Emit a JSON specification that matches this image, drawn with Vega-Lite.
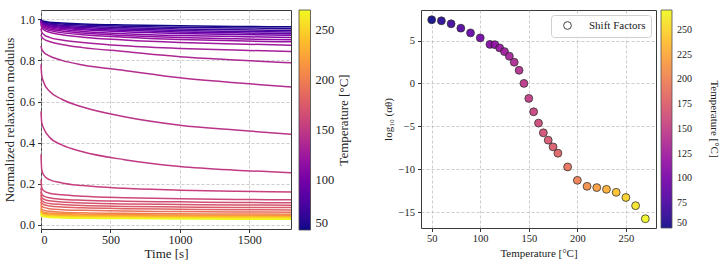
{
  "$schema": "https://vega.github.io/schema/vega-lite/v6.json",
  "padding": {"left": 3, "top": 9, "right": 2, "bottom": 4},
  "background": "white",
  "config": {
    "font": "Liberation Serif",
    "view": {"stroke": "#3a3a3a", "strokeWidth": 1},
    "axis": {
      "grid": true,
      "gridColor": "#b8b8b8",
      "gridDash": [3, 2],
      "gridWidth": 0.7,
      "domain": false,
      "tickColor": "#333",
      "tickSize": 3.5,
      "labelColor": "#222",
      "titleColor": "#222",
      "titleFontWeight": "normal",
      "labelFont": "Liberation Serif",
      "titleFont": "Liberation Serif"
    },
    "legend": {
      "titleFontWeight": "normal",
      "labelFont": "Liberation Serif",
      "titleFont": "Liberation Serif",
      "labelColor": "#222",
      "titleColor": "#222"
    }
  },
  "datasets": {
    "relax": [
      {"T":50,"t":0,"G":1.000},{"T":50,"t":5,"G":0.994},{"T":50,"t":20,"G":0.990},{"T":50,"t":60,"G":0.986},{"T":50,"t":150,"G":0.982},{"T":50,"t":300,"G":0.977},{"T":50,"t":600,"G":0.972},{"T":50,"t":1000,"G":0.968},{"T":50,"t":1400,"G":0.965},{"T":50,"t":1800,"G":0.963},
      {"T":60,"t":0,"G":0.998},{"T":60,"t":5,"G":0.992},{"T":60,"t":20,"G":0.987},{"T":60,"t":60,"G":0.982},{"T":60,"t":150,"G":0.977},{"T":60,"t":300,"G":0.972},{"T":60,"t":600,"G":0.966},{"T":60,"t":1000,"G":0.961},{"T":60,"t":1400,"G":0.958},{"T":60,"t":1800,"G":0.955},
      {"T":70,"t":0,"G":0.996},{"T":70,"t":5,"G":0.989},{"T":70,"t":20,"G":0.983},{"T":70,"t":60,"G":0.977},{"T":70,"t":150,"G":0.971},{"T":70,"t":300,"G":0.966},{"T":70,"t":600,"G":0.959},{"T":70,"t":1000,"G":0.953},{"T":70,"t":1400,"G":0.949},{"T":70,"t":1800,"G":0.946},
      {"T":80,"t":0,"G":0.994},{"T":80,"t":5,"G":0.986},{"T":80,"t":20,"G":0.979},{"T":80,"t":60,"G":0.973},{"T":80,"t":150,"G":0.966},{"T":80,"t":300,"G":0.960},{"T":80,"t":600,"G":0.952},{"T":80,"t":1000,"G":0.945},{"T":80,"t":1400,"G":0.941},{"T":80,"t":1800,"G":0.938},
      {"T":90,"t":0,"G":0.992},{"T":90,"t":5,"G":0.983},{"T":90,"t":20,"G":0.976},{"T":90,"t":60,"G":0.968},{"T":90,"t":150,"G":0.961},{"T":90,"t":300,"G":0.954},{"T":90,"t":600,"G":0.946},{"T":90,"t":1000,"G":0.938},{"T":90,"t":1400,"G":0.934},{"T":90,"t":1800,"G":0.930},
      {"T":100,"t":0,"G":0.990},{"T":100,"t":5,"G":0.980},{"T":100,"t":20,"G":0.972},{"T":100,"t":60,"G":0.964},{"T":100,"t":150,"G":0.956},{"T":100,"t":300,"G":0.949},{"T":100,"t":600,"G":0.939},{"T":100,"t":1000,"G":0.931},{"T":100,"t":1400,"G":0.926},{"T":100,"t":1800,"G":0.922},
      {"T":110,"t":0,"G":0.988},{"T":110,"t":5,"G":0.976},{"T":110,"t":20,"G":0.968},{"T":110,"t":60,"G":0.959},{"T":110,"t":150,"G":0.950},{"T":110,"t":300,"G":0.941},{"T":110,"t":600,"G":0.930},{"T":110,"t":1000,"G":0.921},{"T":110,"t":1400,"G":0.916},{"T":110,"t":1800,"G":0.911},
      {"T":115,"t":0,"G":0.985},{"T":115,"t":5,"G":0.972},{"T":115,"t":20,"G":0.963},{"T":115,"t":60,"G":0.953},{"T":115,"t":150,"G":0.943},{"T":115,"t":300,"G":0.933},{"T":115,"t":600,"G":0.921},{"T":115,"t":1000,"G":0.911},{"T":115,"t":1400,"G":0.905},{"T":115,"t":1800,"G":0.900},
      {"T":120,"t":0,"G":0.980},{"T":120,"t":5,"G":0.967},{"T":120,"t":20,"G":0.957},{"T":120,"t":60,"G":0.946},{"T":120,"t":150,"G":0.935},{"T":120,"t":300,"G":0.925},{"T":120,"t":600,"G":0.913},{"T":120,"t":1000,"G":0.902},{"T":120,"t":1400,"G":0.895},{"T":120,"t":1800,"G":0.890},
      {"T":125,"t":0,"G":0.975},{"T":125,"t":5,"G":0.960},{"T":125,"t":20,"G":0.949},{"T":125,"t":60,"G":0.937},{"T":125,"t":150,"G":0.925},{"T":125,"t":300,"G":0.913},{"T":125,"t":600,"G":0.899},{"T":125,"t":1000,"G":0.887},{"T":125,"t":1400,"G":0.880},{"T":125,"t":1800,"G":0.874},
      {"T":130,"t":0,"G":0.955},{"T":130,"t":5,"G":0.938},{"T":130,"t":20,"G":0.926},{"T":130,"t":60,"G":0.912},{"T":130,"t":150,"G":0.899},{"T":130,"t":300,"G":0.887},{"T":130,"t":600,"G":0.871},{"T":130,"t":1000,"G":0.858},{"T":130,"t":1400,"G":0.850},{"T":130,"t":1800,"G":0.843},
      {"T":135,"t":0,"G":0.925},{"T":135,"t":5,"G":0.914},{"T":135,"t":20,"G":0.904},{"T":135,"t":60,"G":0.892},{"T":135,"t":150,"G":0.877},{"T":135,"t":300,"G":0.862},{"T":135,"t":600,"G":0.843},{"T":135,"t":1000,"G":0.818},{"T":135,"t":1400,"G":0.802},{"T":135,"t":1800,"G":0.788},
      {"T":140,"t":0,"G":0.870},{"T":140,"t":5,"G":0.854},{"T":140,"t":20,"G":0.840},{"T":140,"t":60,"G":0.822},{"T":140,"t":150,"G":0.800},{"T":140,"t":300,"G":0.778},{"T":140,"t":600,"G":0.751},{"T":140,"t":1000,"G":0.715},{"T":140,"t":1400,"G":0.691},{"T":140,"t":1800,"G":0.671},
      {"T":145,"t":0,"G":0.780},{"T":145,"t":5,"G":0.729},{"T":145,"t":20,"G":0.692},{"T":145,"t":60,"G":0.651},{"T":145,"t":150,"G":0.611},{"T":145,"t":300,"G":0.573},{"T":145,"t":600,"G":0.526},{"T":145,"t":1000,"G":0.485},{"T":145,"t":1400,"G":0.461},{"T":145,"t":1800,"G":0.441},
      {"T":150,"t":0,"G":0.553},{"T":150,"t":5,"G":0.499},{"T":150,"t":20,"G":0.469},{"T":150,"t":60,"G":0.427},{"T":150,"t":150,"G":0.389},{"T":150,"t":300,"G":0.356},{"T":150,"t":600,"G":0.317},{"T":150,"t":1000,"G":0.284},{"T":150,"t":1400,"G":0.266},{"T":150,"t":1800,"G":0.254},
      {"T":155,"t":0,"G":0.343},{"T":155,"t":5,"G":0.270},{"T":155,"t":20,"G":0.242},{"T":155,"t":60,"G":0.220},{"T":155,"t":150,"G":0.204},{"T":155,"t":300,"G":0.191},{"T":155,"t":600,"G":0.178},{"T":155,"t":1000,"G":0.169},{"T":155,"t":1400,"G":0.164},{"T":155,"t":1800,"G":0.160},
      {"T":160,"t":0,"G":0.220},{"T":160,"t":5,"G":0.181},{"T":160,"t":20,"G":0.166},{"T":160,"t":60,"G":0.154},{"T":160,"t":150,"G":0.146},{"T":160,"t":300,"G":0.139},{"T":160,"t":600,"G":0.132},{"T":160,"t":1000,"G":0.127},{"T":160,"t":1400,"G":0.124},{"T":160,"t":1800,"G":0.122},
      {"T":165,"t":0,"G":0.180},{"T":165,"t":5,"G":0.151},{"T":165,"t":20,"G":0.140},{"T":165,"t":60,"G":0.132},{"T":165,"t":150,"G":0.125},{"T":165,"t":300,"G":0.120},{"T":165,"t":600,"G":0.115},{"T":165,"t":1000,"G":0.112},{"T":165,"t":1400,"G":0.109},{"T":165,"t":1800,"G":0.108},
      {"T":170,"t":0,"G":0.160},{"T":170,"t":5,"G":0.134},{"T":170,"t":20,"G":0.125},{"T":170,"t":60,"G":0.117},{"T":170,"t":150,"G":0.111},{"T":170,"t":300,"G":0.107},{"T":170,"t":600,"G":0.102},{"T":170,"t":1000,"G":0.099},{"T":170,"t":1400,"G":0.097},{"T":170,"t":1800,"G":0.096},
      {"T":175,"t":0,"G":0.145},{"T":175,"t":5,"G":0.121},{"T":175,"t":20,"G":0.111},{"T":175,"t":60,"G":0.104},{"T":175,"t":150,"G":0.099},{"T":175,"t":300,"G":0.094},{"T":175,"t":600,"G":0.090},{"T":175,"t":1000,"G":0.087},{"T":175,"t":1400,"G":0.085},{"T":175,"t":1800,"G":0.084},
      {"T":180,"t":0,"G":0.130},{"T":180,"t":5,"G":0.107},{"T":180,"t":20,"G":0.099},{"T":180,"t":60,"G":0.092},{"T":180,"t":150,"G":0.087},{"T":180,"t":300,"G":0.083},{"T":180,"t":600,"G":0.079},{"T":180,"t":1000,"G":0.076},{"T":180,"t":1400,"G":0.074},{"T":180,"t":1800,"G":0.073},
      {"T":190,"t":0,"G":0.112},{"T":190,"t":5,"G":0.092},{"T":190,"t":20,"G":0.085},{"T":190,"t":60,"G":0.079},{"T":190,"t":150,"G":0.074},{"T":190,"t":300,"G":0.071},{"T":190,"t":600,"G":0.067},{"T":190,"t":1000,"G":0.065},{"T":190,"t":1400,"G":0.063},{"T":190,"t":1800,"G":0.062},
      {"T":200,"t":0,"G":0.095},{"T":200,"t":5,"G":0.078},{"T":200,"t":20,"G":0.071},{"T":200,"t":60,"G":0.066},{"T":200,"t":150,"G":0.062},{"T":200,"t":300,"G":0.059},{"T":200,"t":600,"G":0.056},{"T":200,"t":1000,"G":0.054},{"T":200,"t":1400,"G":0.053},{"T":200,"t":1800,"G":0.052},
      {"T":210,"t":0,"G":0.082},{"T":210,"t":5,"G":0.068},{"T":210,"t":20,"G":0.062},{"T":210,"t":60,"G":0.058},{"T":210,"t":150,"G":0.055},{"T":210,"t":300,"G":0.052},{"T":210,"t":600,"G":0.050},{"T":210,"t":1000,"G":0.048},{"T":210,"t":1400,"G":0.047},{"T":210,"t":1800,"G":0.046},
      {"T":220,"t":0,"G":0.074},{"T":220,"t":5,"G":0.061},{"T":220,"t":20,"G":0.056},{"T":220,"t":60,"G":0.053},{"T":220,"t":150,"G":0.050},{"T":220,"t":300,"G":0.047},{"T":220,"t":600,"G":0.045},{"T":220,"t":1000,"G":0.044},{"T":220,"t":1400,"G":0.043},{"T":220,"t":1800,"G":0.042},
      {"T":230,"t":0,"G":0.068},{"T":230,"t":5,"G":0.056},{"T":230,"t":20,"G":0.052},{"T":230,"t":60,"G":0.049},{"T":230,"t":150,"G":0.046},{"T":230,"t":300,"G":0.044},{"T":230,"t":600,"G":0.042},{"T":230,"t":1000,"G":0.040},{"T":230,"t":1400,"G":0.040},{"T":230,"t":1800,"G":0.039},
      {"T":240,"t":0,"G":0.063},{"T":240,"t":5,"G":0.052},{"T":240,"t":20,"G":0.048},{"T":240,"t":60,"G":0.045},{"T":240,"t":150,"G":0.042},{"T":240,"t":300,"G":0.041},{"T":240,"t":600,"G":0.039},{"T":240,"t":1000,"G":0.037},{"T":240,"t":1400,"G":0.037},{"T":240,"t":1800,"G":0.036},
      {"T":250,"t":0,"G":0.059},{"T":250,"t":5,"G":0.049},{"T":250,"t":20,"G":0.045},{"T":250,"t":60,"G":0.042},{"T":250,"t":150,"G":0.039},{"T":250,"t":300,"G":0.037},{"T":250,"t":600,"G":0.036},{"T":250,"t":1000,"G":0.034},{"T":250,"t":1400,"G":0.034},{"T":250,"t":1800,"G":0.033},
      {"T":260,"t":0,"G":0.056},{"T":260,"t":5,"G":0.046},{"T":260,"t":20,"G":0.042},{"T":260,"t":60,"G":0.039},{"T":260,"t":150,"G":0.037},{"T":260,"t":300,"G":0.035},{"T":260,"t":600,"G":0.034},{"T":260,"t":1000,"G":0.032},{"T":260,"t":1400,"G":0.031},{"T":260,"t":1800,"G":0.031},
      {"T":270,"t":0,"G":0.053},{"T":270,"t":5,"G":0.043},{"T":270,"t":20,"G":0.039},{"T":270,"t":60,"G":0.036},{"T":270,"t":150,"G":0.034},{"T":270,"t":300,"G":0.032},{"T":270,"t":600,"G":0.031},{"T":270,"t":1000,"G":0.029},{"T":270,"t":1400,"G":0.028},{"T":270,"t":1800,"G":0.028}
    ],
    "shift": [
      {"T":50,"s":7.42},{"T":60,"s":7.30},{"T":70,"s":6.95},{"T":80,"s":6.44},{"T":90,"s":5.89},
      {"T":100,"s":5.31},{"T":110,"s":4.55},{"T":115,"s":4.52},{"T":120,"s":4.14},{"T":125,"s":3.71},
      {"T":130,"s":3.17},{"T":135,"s":2.47},{"T":140,"s":1.53},{"T":145,"s":0.0},{"T":150,"s":-1.75},
      {"T":155,"s":-3.31},{"T":160,"s":-4.63},{"T":165,"s":-5.76},{"T":170,"s":-6.62},{"T":175,"s":-7.40},
      {"T":180,"s":-8.14},{"T":190,"s":-9.74},{"T":200,"s":-11.30},{"T":210,"s":-12.00},{"T":220,"s":-12.15},
      {"T":230,"s":-12.35},{"T":240,"s":-12.70},{"T":250,"s":-13.30},{"T":260,"s":-14.26},{"T":270,"s":-15.78}
    ]
  },
  "spacing": 28,
  "resolve": {
    "scale": {"color": "independent", "shape": "independent"},
    "legend": {"color": "independent", "shape": "independent"}
  },
  "hconcat": [
    {
      "width": 250,
      "height": 219,
      "data": {"name": "relax"},
      "mark": {"type": "line", "strokeWidth": 1.5, "interpolate": "monotone"},
      "encoding": {
        "x": {
          "field": "t", "type": "quantitative",
          "scale": {"domain": [0, 1800], "nice": false},
          "axis": {"values": [0, 500, 1000, 1500], "format": "d", "title": "Time [s]", "labelFontSize": 12, "titleFontSize": 13, "titlePadding": 2, "labelPadding": 2}
        },
        "y": {
          "field": "G", "type": "quantitative",
          "scale": {"domain": [-0.02, 1.045], "nice": false, "zero": false},
          "axis": {"values": [0, 0.2, 0.4, 0.6, 0.8, 1.0], "format": ".1f", "title": "Normalized relaxation modulus", "labelFontSize": 12, "titleFontSize": 13, "titlePadding": 3, "labelPadding": 3}
        },
        "detail": {"field": "T", "type": "quantitative"},
        "color": {
          "field": "T", "type": "quantitative",
          "scale": {"scheme": "plasma", "domain": [50, 270]},
          "legend": {
            "title": "Temperature [°C]",
            "orient": "right",
            "offset": 5,
            "padding": 0,
            "direction": "vertical",
            "gradientLength": 220,
            "gradientThickness": 11.5,
            "gradientStrokeColor": "#444",
            "gradientStrokeWidth": 0.8,
            "values": [50, 100, 150, 200, 250],
            "labelFontSize": 12.5,
            "labelOffset": 5,
            "titleFontSize": 13,
            "titleOrient": "right",
            "titleAnchor": "middle",
            "titlePadding": 4,
            "encode": {"title": {"update": {"angle": {"value": 270}, "baseline": {"value": "top"}}}}
          }
        }
      }
    },
    {
      "width": 235,
      "height": 218,
      "data": {"name": "shift"},
      "mark": {"type": "point", "filled": true, "size": 62, "stroke": "#222", "strokeWidth": 0.8, "opacity": 0.92},
      "encoding": {
        "x": {
          "field": "T", "type": "quantitative",
          "scale": {"domain": [39, 281], "nice": false, "zero": false},
          "axis": {"values": [50, 100, 150, 200, 250], "title": "Temperature [°C]", "labelFontSize": 10.5, "titleFontSize": 11, "titlePadding": 3, "labelPadding": 2}
        },
        "y": {
          "field": "s", "type": "quantitative",
          "scale": {"domain": [-16.86, 8.56], "nice": false, "zero": false},
          "axis": {"values": [-15, -10, -5, 0, 5], "title": "log₁₀ (αθ)", "labelFontSize": 10.5, "titleFontSize": 11, "titlePadding": 5, "labelPadding": 3}
        },
        "color": {
          "field": "T", "type": "quantitative",
          "scale": {"scheme": "plasma", "domain": [50, 270]},
          "legend": {
            "title": "Temperature [°C]",
            "orient": "right",
            "offset": 5,
            "padding": 0,
            "direction": "vertical",
            "gradientLength": 218,
            "gradientThickness": 11,
            "gradientStrokeColor": "#444",
            "gradientStrokeWidth": 0.8,
            "values": [50, 75, 100, 125, 150, 175, 200, 225, 250],
            "labelFontSize": 10,
            "labelOffset": 5,
            "titleFontSize": 11,
            "titleOrient": "right",
            "titleAnchor": "middle",
            "titlePadding": 17,
            "encode": {"title": {"update": {"angle": {"value": 270}, "baseline": {"value": "top"}}}}
          }
        },
        "shape": {
          "datum": "Shift Factors",
          "scale": {"range": ["circle"]},
          "legend": {
            "title": null,
            "orient": "top-right",
            "offset": 5,
            "padding": 5,
            "fillColor": "rgba(255,255,255,0.85)",
            "strokeColor": "#d0d0d0",
            "cornerRadius": 3,
            "symbolFillColor": "white",
            "symbolStrokeColor": "#333",
            "symbolStrokeWidth": 1,
            "symbolSize": 60,
            "symbolOffset": 6,
            "labelOffset": 16,
            "labelFontSize": 11
          }
        }
      }
    }
  ]
}
